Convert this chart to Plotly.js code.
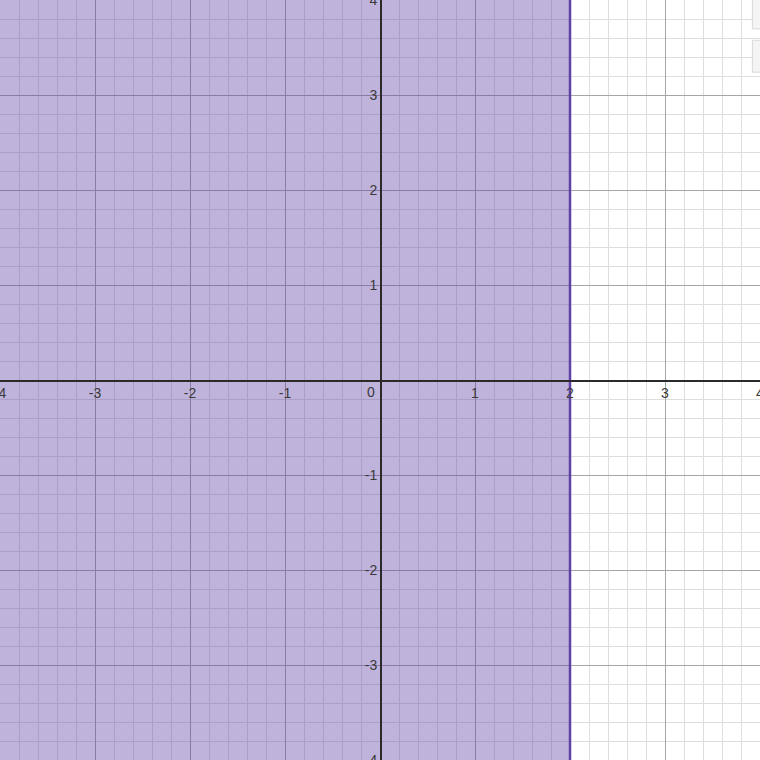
<!DOCTYPE html>
<html>
<head>
<meta charset="utf-8">
<script src="https://cdn.plot.ly/plotly-3.0.1.min.js"></script>
<style>html,body{margin:0;padding:0;background:#fff;overflow:hidden;}#chart{width:760px;height:760px;}</style>
</head>
<body>
<div id="chart"></div>
<script>
// ---- data ----
const xTickVals = [-4, -3, -2, -1, 1, 2, 3, 4];
const xTickText = ['-4', '-3', '-2', '-1', '1', '2', '3', '4'];
const yTickVals = [-4, -3, -2, -1, 1, 2, 3, 4];
const yTickText = ['-4', '-3', '-2', '-1', '1', '2', '3', '4'];
const originLabel = '0';
const viewMin = -4;
const viewMax = 4;
const boundaryX = 2;           // inequality x <= 2
const regionX = [viewMin, boundaryX, boundaryX, viewMin, viewMin];
const regionY = [viewMin, viewMin, viewMax, viewMax, viewMin];
const boundaryLineX = [boundaryX, boundaryX];
const boundaryLineY = [viewMin, viewMax];

const purple = '#6042a6';
const labelFont = {family: 'Liberation Sans, Arial, sans-serif', size: 14, color: '#3a3a3a'};

const traces = [
  {x: regionX, y: regionY, type: 'scatter', mode: 'lines', fill: 'toself',
   fillcolor: 'rgba(96,66,166,0.4)', line: {width: 0}, hoverinfo: 'skip'},
  {x: boundaryLineX, y: boundaryLineY, type: 'scatter', mode: 'lines',
   line: {color: purple, width: 2.5}, hoverinfo: 'skip'}
];

const axisCommon = {
  range: [viewMin, viewMax], dtick: 1, showgrid: true, gridcolor: '#a6a6a6', gridwidth: 1,
  minor: {dtick: 0.2, showgrid: true, gridcolor: '#dedede', gridwidth: 1},
  zeroline: false, showline: true, linecolor: '#2a2a2a', linewidth: 1.6,
  anchor: 'free', position: 0.5, tickmode: 'array', ticks: '', tickfont: labelFont,
  ticklabeloverflow: 'allow', fixedrange: true
};

const layout = {
  width: 760, height: 760, margin: {l: 0, r: 0, t: 0, b: 0},
  paper_bgcolor: '#fff', plot_bgcolor: '#fff', showlegend: false,
  xaxis: Object.assign({}, axisCommon, {tickvals: xTickVals, ticktext: xTickText}),
  yaxis: Object.assign({}, axisCommon, {tickvals: yTickVals, ticktext: yTickText}),
  annotations: [{x: 0, y: 0, xref: 'x', yref: 'y', text: originLabel, showarrow: false,
    xanchor: 'right', yanchor: 'top', xshift: -3, yshift: -2, font: labelFont}],
  shapes: [
    {type: 'rect', xref: 'paper', yref: 'paper', x0: 0.99, x1: 1.02, y0: 0.962, y1: 1.01,
     line: {color: '#d8d8d8', width: 1}, fillcolor: '#f4f4f4'},
    {type: 'rect', xref: 'paper', yref: 'paper', x0: 0.99, x1: 1.02, y0: 0.905, y1: 0.947,
     line: {color: '#d8d8d8', width: 1}, fillcolor: '#f4f4f4'}
  ]
};

Plotly.newPlot('chart', traces, layout, {displayModeBar: false, staticPlot: true});
</script>
</body>
</html>
